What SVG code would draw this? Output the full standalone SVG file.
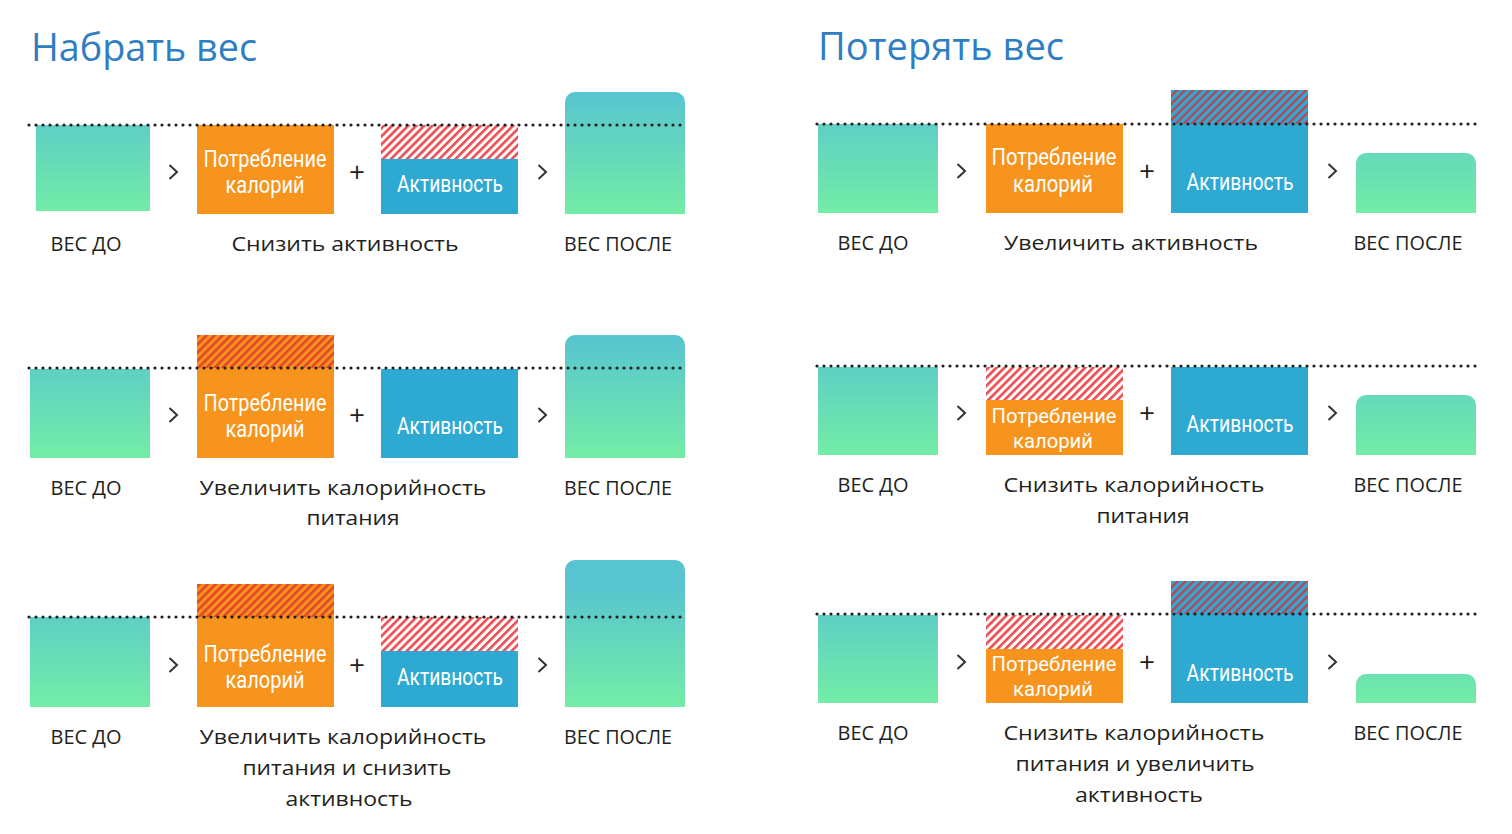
<svg xmlns="http://www.w3.org/2000/svg" width="1512" height="834" viewBox="0 0 1512 834">
<style>
.title{font-family:"Open Sans","Noto Sans",sans-serif;font-size:38px;fill:#2f7ec3}
.lbl{font-family:"Open Sans","Noto Sans",sans-serif;font-size:20.5px;fill:#231f20;text-anchor:middle}
.bt{font-family:Roboto,"Liberation Sans",sans-serif;font-size:23px;fill:#fff;text-anchor:middle}
.bs{font-size:20px}
.org{fill:#f7941d}
.blu{fill:#2eaad2}
.dots{stroke:#231f20;stroke-width:3.2;stroke-linecap:round;stroke-dasharray:0 7;fill:none}
.chev{stroke:#333;stroke-width:2;fill:none;stroke-linejoin:miter}
.plus{font-family:"Open Sans","Noto Sans",sans-serif;font-size:28px;fill:#231f20;text-anchor:middle}
</style>
<defs>
<pattern id="hW" patternUnits="userSpaceOnUse" width="5.7" height="10" patternTransform="rotate(45)">
<rect width="5.7" height="10" fill="#fff"/><rect width="2.6" height="10" fill="#ec4a50"/>
</pattern>
<pattern id="hO" patternUnits="userSpaceOnUse" width="5.7" height="10" patternTransform="rotate(45)">
<rect width="5.7" height="10" fill="#f7941d"/><rect width="2.6" height="10" fill="#e5452b"/>
</pattern>
<pattern id="hB" patternUnits="userSpaceOnUse" width="5.7" height="10" patternTransform="rotate(45)">
<rect width="5.7" height="10" fill="#2eaad2"/><rect width="2.2" height="10" fill="#c43d4c"/>
</pattern>
<linearGradient id="gL1" gradientUnits="userSpaceOnUse" x1="0" y1="92" x2="0" y2="214"><stop offset="0" stop-color="#57c4d0"/><stop offset="1" stop-color="#73eda6"/></linearGradient>
<linearGradient id="gL2" gradientUnits="userSpaceOnUse" x1="0" y1="335" x2="0" y2="458"><stop offset="0" stop-color="#57c4d0"/><stop offset="1" stop-color="#73eda6"/></linearGradient>
<linearGradient id="gL3" gradientUnits="userSpaceOnUse" x1="0" y1="584" x2="0" y2="707"><stop offset="0" stop-color="#57c4d0"/><stop offset="1" stop-color="#73eda6"/></linearGradient>
<linearGradient id="gR1" gradientUnits="userSpaceOnUse" x1="0" y1="91" x2="0" y2="213"><stop offset="0" stop-color="#57c4d0"/><stop offset="1" stop-color="#73eda6"/></linearGradient>
<linearGradient id="gR2" gradientUnits="userSpaceOnUse" x1="0" y1="333" x2="0" y2="455"><stop offset="0" stop-color="#57c4d0"/><stop offset="1" stop-color="#73eda6"/></linearGradient>
<linearGradient id="gR3" gradientUnits="userSpaceOnUse" x1="0" y1="581" x2="0" y2="703"><stop offset="0" stop-color="#57c4d0"/><stop offset="1" stop-color="#73eda6"/></linearGradient>
</defs>
<rect width="1512" height="834" fill="#fff"/>

<text class="title" x="31" y="61" textLength="226" lengthAdjust="spacingAndGlyphs">Набрать вес</text>
<text class="title" x="818" y="60" textLength="246" lengthAdjust="spacingAndGlyphs">Потерять вес</text>

<!-- LEFT ROW 1 -->
<g id="L1-before"><rect x="36" y="125" width="114" height="86" fill="url(#gL1)"/><text class="lbl" x="86" y="251" textLength="71" lengthAdjust="spacingAndGlyphs">ВЕС ДО</text></g>
<g id="L1-cal"><rect class="org" x="197" y="125" width="137" height="89"/><text class="bt" x="265" y="167" textLength="123" lengthAdjust="spacingAndGlyphs">Потребление</text><text class="bt" x="265" y="193" textLength="79" lengthAdjust="spacingAndGlyphs">калорий</text></g>
<g id="L1-act"><rect x="381" y="125" width="137" height="34" fill="url(#hW)"/><rect class="blu" x="381" y="159" width="137" height="55"/><text class="bt" x="450" y="192" textLength="106" lengthAdjust="spacingAndGlyphs">Активность</text></g>
<g id="L1-after"><path d="M565 214V102a10 10 0 0 1 10-10h100a10 10 0 0 1 10 10V214Z" fill="url(#gL1)"/><text class="lbl" x="618" y="251" textLength="108" lengthAdjust="spacingAndGlyphs">ВЕС ПОСЛЕ</text></g>
<text class="lbl" x="345" y="251" textLength="227" lengthAdjust="spacingAndGlyphs">Снизить активность</text>
<line class="dots" x1="29" y1="125" x2="686" y2="125"/>

<!-- LEFT ROW 2 -->
<g id="L2-before"><rect x="30" y="369" width="120" height="89" fill="url(#gL2)"/><text class="lbl" x="86" y="495" textLength="71" lengthAdjust="spacingAndGlyphs">ВЕС ДО</text></g>
<g id="L2-cal"><rect x="197" y="335" width="137" height="33" fill="url(#hO)"/><rect class="org" x="197" y="368" width="137" height="90"/><text class="bt" x="265" y="411" textLength="123" lengthAdjust="spacingAndGlyphs">Потребление</text><text class="bt" x="265" y="437" textLength="79" lengthAdjust="spacingAndGlyphs">калорий</text></g>
<g id="L2-act"><rect class="blu" x="381" y="369" width="137" height="89"/><text class="bt" x="450" y="434" textLength="106" lengthAdjust="spacingAndGlyphs">Активность</text></g>
<g id="L2-after"><path d="M565 458V345a10 10 0 0 1 10-10h100a10 10 0 0 1 10 10V458Z" fill="url(#gL2)"/><text class="lbl" x="618" y="495" textLength="108" lengthAdjust="spacingAndGlyphs">ВЕС ПОСЛЕ</text></g>
<text class="lbl" x="343" y="495" textLength="287" lengthAdjust="spacingAndGlyphs">Увеличить калорийность</text>
<text class="lbl" x="353" y="525" textLength="93" lengthAdjust="spacingAndGlyphs">питания</text>
<line class="dots" x1="29" y1="368" x2="686" y2="368"/>

<!-- LEFT ROW 3 -->
<g id="L3-before"><rect x="30" y="617" width="120" height="90" fill="url(#gL3)"/><text class="lbl" x="86" y="744" textLength="71" lengthAdjust="spacingAndGlyphs">ВЕС ДО</text></g>
<g id="L3-cal"><rect x="197" y="584" width="137" height="33" fill="url(#hO)"/><rect class="org" x="197" y="617" width="137" height="90"/><text class="bt" x="265" y="662" textLength="123" lengthAdjust="spacingAndGlyphs">Потребление</text><text class="bt" x="265" y="688" textLength="79" lengthAdjust="spacingAndGlyphs">калорий</text></g>
<g id="L3-act"><rect x="381" y="617" width="137" height="34" fill="url(#hW)"/><rect class="blu" x="381" y="651" width="137" height="56"/><text class="bt" x="450" y="685" textLength="106" lengthAdjust="spacingAndGlyphs">Активность</text></g>
<g id="L3-after"><path d="M565 707V570a10 10 0 0 1 10-10h100a10 10 0 0 1 10 10V707Z" fill="url(#gL3)"/><text class="lbl" x="618" y="744" textLength="108" lengthAdjust="spacingAndGlyphs">ВЕС ПОСЛЕ</text></g>
<text class="lbl" x="343" y="744" textLength="287" lengthAdjust="spacingAndGlyphs">Увеличить калорийность</text>
<text class="lbl" x="347" y="775" textLength="209" lengthAdjust="spacingAndGlyphs">питания и снизить</text>
<text class="lbl" x="349" y="806" textLength="127" lengthAdjust="spacingAndGlyphs">активность</text>
<line class="dots" x1="29" y1="617" x2="686" y2="617"/>

<!-- RIGHT ROW 1 -->
<g id="R1-before"><rect x="818" y="124" width="120" height="89" fill="url(#gR1)"/><text class="lbl" x="873" y="250" textLength="71" lengthAdjust="spacingAndGlyphs">ВЕС ДО</text></g>
<g id="R1-cal"><rect class="org" x="986" y="124" width="137" height="89"/><text class="bt" x="1054" y="165" textLength="125" lengthAdjust="spacingAndGlyphs">Потребление</text><text class="bt" x="1053" y="192" textLength="80" lengthAdjust="spacingAndGlyphs">калорий</text></g>
<g id="R1-act"><rect x="1171" y="90" width="137" height="34" fill="url(#hB)"/><rect class="blu" x="1171" y="124" width="137" height="89"/><text class="bt" x="1240" y="190" textLength="107" lengthAdjust="spacingAndGlyphs">Активность</text></g>
<g id="R1-after"><path d="M1356 213V163a10 10 0 0 1 10-10h100a10 10 0 0 1 10 10V213Z" fill="url(#gR1)"/><text class="lbl" x="1408" y="250" textLength="109" lengthAdjust="spacingAndGlyphs">ВЕС ПОСЛЕ</text></g>
<text class="lbl" x="1131" y="250" textLength="254" lengthAdjust="spacingAndGlyphs">Увеличить активность</text>
<line class="dots" x1="817" y1="124" x2="1478" y2="124"/>

<!-- RIGHT ROW 2 -->
<g id="R2-before"><rect x="818" y="367" width="120" height="88" fill="url(#gR2)"/><text class="lbl" x="873" y="492" textLength="71" lengthAdjust="spacingAndGlyphs">ВЕС ДО</text></g>
<g id="R2-cal"><rect x="986" y="367" width="137" height="33" fill="url(#hW)"/><rect class="org" x="986" y="400" width="137" height="55"/><text class="bt bs" x="1054" y="423" textLength="125" lengthAdjust="spacingAndGlyphs">Потребление</text><text class="bt bs" x="1053" y="448" textLength="80" lengthAdjust="spacingAndGlyphs">калорий</text></g>
<g id="R2-act"><rect class="blu" x="1171" y="367" width="137" height="88"/><text class="bt" x="1240" y="432" textLength="107" lengthAdjust="spacingAndGlyphs">Активность</text></g>
<g id="R2-after"><path d="M1356 455V405a10 10 0 0 1 10-10h100a10 10 0 0 1 10 10V455Z" fill="url(#gR2)"/><text class="lbl" x="1408" y="492" textLength="109" lengthAdjust="spacingAndGlyphs">ВЕС ПОСЛЕ</text></g>
<text class="lbl" x="1134" y="492" textLength="261" lengthAdjust="spacingAndGlyphs">Снизить калорийность</text>
<text class="lbl" x="1143" y="523" textLength="93" lengthAdjust="spacingAndGlyphs">питания</text>
<line class="dots" x1="817" y1="366" x2="1478" y2="366"/>

<!-- RIGHT ROW 3 -->
<g id="R3-before"><rect x="818" y="615" width="120" height="88" fill="url(#gR3)"/><text class="lbl" x="873" y="740" textLength="71" lengthAdjust="spacingAndGlyphs">ВЕС ДО</text></g>
<g id="R3-cal"><rect x="986" y="615" width="137" height="34" fill="url(#hW)"/><rect class="org" x="986" y="649" width="137" height="54"/><text class="bt bs" x="1054" y="671" textLength="125" lengthAdjust="spacingAndGlyphs">Потребление</text><text class="bt bs" x="1053" y="696" textLength="80" lengthAdjust="spacingAndGlyphs">калорий</text></g>
<g id="R3-act"><rect x="1171" y="581" width="137" height="33" fill="url(#hB)"/><rect class="blu" x="1171" y="614" width="137" height="89"/><text class="bt" x="1240" y="681" textLength="107" lengthAdjust="spacingAndGlyphs">Активность</text></g>
<g id="R3-after"><path d="M1356 703V684a10 10 0 0 1 10-10h100a10 10 0 0 1 10 10V703Z" fill="url(#gR3)"/><text class="lbl" x="1408" y="740" textLength="109" lengthAdjust="spacingAndGlyphs">ВЕС ПОСЛЕ</text></g>
<text class="lbl" x="1134" y="740" textLength="261" lengthAdjust="spacingAndGlyphs">Снизить калорийность</text>
<text class="lbl" x="1135" y="771" textLength="239" lengthAdjust="spacingAndGlyphs">питания и увеличить</text>
<text class="lbl" x="1139" y="802" textLength="128" lengthAdjust="spacingAndGlyphs">активность</text>
<line class="dots" x1="817" y1="614" x2="1478" y2="614"/>

<g id="connectors">
<polyline class="chev" points="169.5,165 177,172 169.5,179"/>
<polyline class="chev" points="538.5,165 546,172 538.5,179"/>
<polyline class="chev" points="169.5,408 177,415 169.5,422"/>
<polyline class="chev" points="538.5,408 546,415 538.5,422"/>
<polyline class="chev" points="169.5,658 177,665 169.5,672"/>
<polyline class="chev" points="538.5,658 546,665 538.5,672"/>
<polyline class="chev" points="957.5,164 965,171 957.5,178"/>
<polyline class="chev" points="1328.5,164 1336,171 1328.5,178"/>
<polyline class="chev" points="957.5,406 965,413 957.5,420"/>
<polyline class="chev" points="1328.5,406 1336,413 1328.5,420"/>
<polyline class="chev" points="957.5,655 965,662 957.5,669"/>
<polyline class="chev" points="1328.5,655 1336,662 1328.5,669"/>
<text class="plus" x="357" y="182">+</text>
<text class="plus" x="357" y="425">+</text>
<text class="plus" x="357" y="675">+</text>
<text class="plus" x="1147" y="181">+</text>
<text class="plus" x="1147" y="423">+</text>
<text class="plus" x="1147" y="672">+</text>
</g>
</svg>
